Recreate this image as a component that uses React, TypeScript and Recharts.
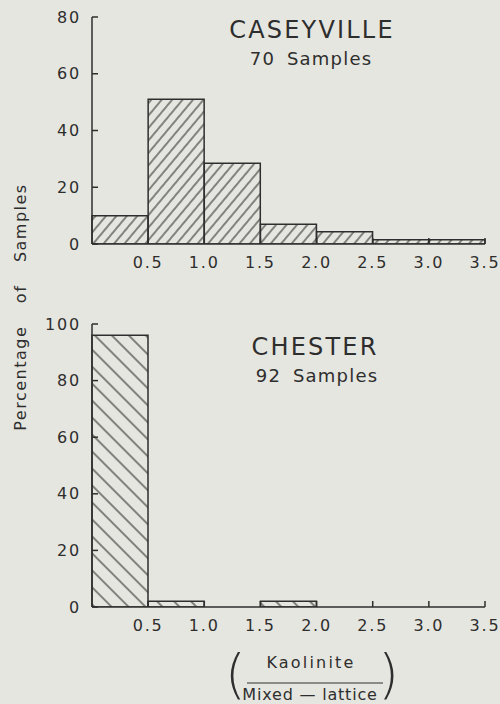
import { BarChart, Bar, XAxis, YAxis } from 'recharts';

const bins = ['0.0-0.5', '0.5-1.0', '1.0-1.5', '1.5-2.0', '2.0-2.5', '2.5-3.0', '3.0-3.5'];
const edgeLabels = ['0.5', '1.0', '1.5', '2.0', '2.5', '3.0', '3.5'];
const caseyvillePct = [10, 51, 28.5, 7, 4.3, 1.5, 1.5];
const chesterPct = [96, 2, 0, 2, 0, 0, 0];
const caseyvilleTicks = [0, 20, 40, 60, 80];
const chesterTicks = [0, 20, 40, 60, 80, 100];

const ink = '#2e2e2e';
const paper = '#e6e6e0';
const font = '"DejaVu Sans", sans-serif';

const caseyvilleData = bins.map((bin, i) => ({ bin, pct: caseyvillePct[i] }));
const chesterData = bins.map((bin, i) => ({ bin, pct: chesterPct[i] }));

const tickStyle = { fill: ink, fontSize: 16, fontFamily: font, letterSpacing: 1.8 };

// tick sits on the right edge of each bin, pointing up into the plot
const EdgeTick = ({ x, y, payload, index }: any) => {
    const edge = x + (payload?.offset ?? 28.07);
    return (
        <g>
            <line x1={edge} y1={y} x2={edge} y2={y - 6} stroke={ink} strokeWidth={1.5} />
            <text x={edge} y={y + 24} textAnchor="middle" {...tickStyle}>{edgeLabels[index]}</text>
        </g>
    );
};

const Histogram = ({ data, yMax, yTicks, hatchId, hatchGap, hatchAngle, height, top, bottom }: any) => {
    return (
        <BarChart
            width={500}
            height={height}
            data={data}
            margin={{ top, right: 15, left: 32, bottom }}
            barCategoryGap={0}
            barGap={0}
        >
            <defs>
                <pattern id={hatchId} width={hatchGap} height={hatchGap} patternUnits="userSpaceOnUse" patternTransform={`rotate(${hatchAngle})`}>
                    <line x1={hatchGap / 2} y1={0} x2={hatchGap / 2} y2={hatchGap} stroke={ink} strokeWidth={1.1} />
                </pattern>
            </defs>
            <XAxis
                dataKey="bin"
                type="category"
                interval={0}
                tickSize={0}
                tickMargin={0}
                height={30}
                axisLine={{ stroke: ink, strokeWidth: 1.5 }}
                tickLine={false}
                tick={<EdgeTick />}
            />
            <YAxis
                type="number"
                domain={[0, yMax]}
                ticks={yTicks}
                interval={0}
                allowDataOverflow
                width={60}
                tickSize={-6}
                tickMargin={17}
                axisLine={{ stroke: ink, strokeWidth: 1.5 }}
                tickLine={{ stroke: ink, strokeWidth: 1.5 }}
                tick={tickStyle}
            />
            <Bar dataKey="pct" fill={`url(#${hatchId})`} stroke={ink} strokeWidth={1.5} isAnimationActive={false} />
        </BarChart>
    );
};

const App = () => {
    return (
        <div style={{ position: 'absolute', left: 0, top: 0, width: 500, height: 704, overflow: 'hidden', background: paper }}>
            <div style={{ position: 'absolute', left: 0, top: 0 }}>
                <Histogram data={caseyvilleData} yMax={80} yTicks={caseyvilleTicks} hatchId="hatchUp" hatchGap={8} hatchAngle={40}
                    height={280} top={17} bottom={6} />
            </div>
            <div style={{ position: 'absolute', left: 0, top: 300 }}>
                <Histogram data={chesterData} yMax={100} yTicks={chesterTicks} hatchId="hatchDown" hatchGap={12} hatchAngle={-45}
                    height={340} top={24} bottom={3} />
            </div>
            <svg width={500} height={704} style={{ position: 'absolute', left: 0, top: 0, pointerEvents: 'none' }}>
                <g fill={ink} fontFamily={font}>
                    <text x={312} y={38} fontSize={24} letterSpacing={2.2} textAnchor="middle">CASEYVILLE</text>
                    <text x={311} y={65} fontSize={18} letterSpacing={1.2} wordSpacing={5} textAnchor="middle">70 Samples</text>
                    <text x={315} y={355} fontSize={24} letterSpacing={2.2} textAnchor="middle">CHESTER</text>
                    <text x={317} y={382} fontSize={18} letterSpacing={1.2} wordSpacing={5} textAnchor="middle">92 Samples</text>
                    <text x={26} y={307} fontSize={16} letterSpacing={1.5} wordSpacing={16} textAnchor="middle" transform="rotate(-90 26 307)">
                        Percentage of Samples
                    </text>
                    <text x={311} y={668} fontSize={16} letterSpacing={2.2} textAnchor="middle">Kaolinite</text>
                    <line x1={247} y1={683} x2={383} y2={683} stroke={ink} strokeWidth={1.2} />
                    <text x={310} y={700} fontSize={16} letterSpacing={0.8} textAnchor="middle">Mixed — lattice</text>
                    <text x={225} y={693} fontSize={53} fontWeight={200}>(</text>
                    <text x={399} y={693} fontSize={53} fontWeight={200} textAnchor="end">)</text>
                </g>
            </svg>
        </div>
    );
};

export default App;
